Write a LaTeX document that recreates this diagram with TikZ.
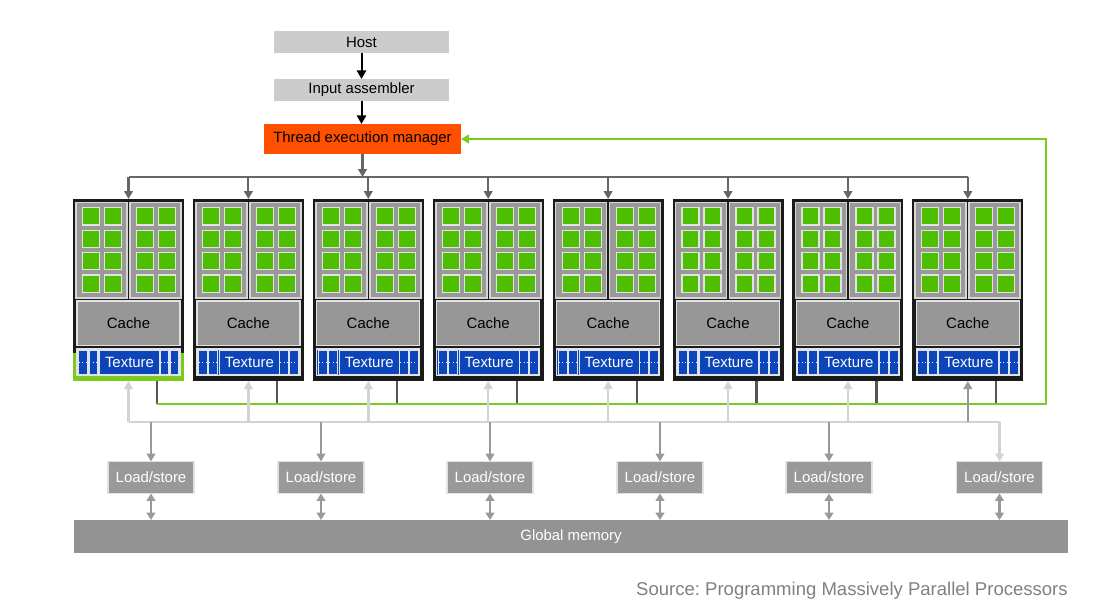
\documentclass[tikz,border=0pt]{standalone}
\usepackage{fontspec}
\setmainfont{Liberation Sans}
\usetikzlibrary{arrows.meta}
\frenchspacing
\definecolor{hostgray}{HTML}{CCCCCC}
\definecolor{temorange}{HTML}{FF5000}
\definecolor{smblack}{HTML}{1A1A1A}
\definecolor{panelrim}{HTML}{D6D6D6}
\definecolor{panelfill}{HTML}{999999}
\definecolor{coregreen}{HTML}{4DBE00}
\definecolor{linkgreen}{HTML}{7ACB1E}
\definecolor{cachegray}{HTML}{979797}
\definecolor{texblue}{HTML}{0C45B9}
\definecolor{busdark}{HTML}{666666}
\definecolor{stubgray}{HTML}{555555}
\definecolor{buslight}{HTML}{D3D3D3}
\definecolor{midgray}{HTML}{999999}
\definecolor{gmgray}{HTML}{939393}
\definecolor{srcgray}{HTML}{808080}
\definecolor{rimlight}{HTML}{E2E2E2}
\tikzset{
  flat/.style={inner sep=0pt, outer sep=0pt},
  lbl/.style={font=\fontsize{11.2}{13}\selectfont},
  tipbig/.style={-{Triangle[width=7pt,length=6.5pt]}},
  tipmid/.style={-{Triangle[width=6.5pt,length=6pt]}},
  tipboth/.style={{Triangle[width=6.5pt,length=5.5pt]}-{Triangle[width=6.5pt,length=5.5pt]}},
  darkbus/.style={draw=busdark, line width=1.6pt},
  lightbus/.style={draw=buslight, line width=1.8pt},
  memlink/.style={draw=midgray, line width=1.6pt},
}
\begin{document}
\begin{tikzpicture}[x=0.75pt,y=-0.75pt]
\useasboundingbox (0,0) rectangle (1110,611);

% top chain
\node[flat, minimum width=175*0.75pt, minimum height=22*0.75pt, fill=hostgray, lbl] (host) at (361.5,42) {Host};
\node[flat, minimum width=175*0.75pt, minimum height=22*0.75pt, fill=hostgray, lbl] (ia) at (361.5,90) {Input assembler};
\node[flat, minimum width=197*0.75pt, minimum height=30*0.75pt, fill=temorange, lbl] (tem) at (362.5,139) {Thread execution manager};
\draw[black, line width=1.5pt, tipbig] (host.south) -- (ia.north);
\draw[black, line width=1.5pt, tipbig] (ia.south) -- (ia.south |- tem.north);

% streaming multiprocessors
\foreach \i in {1,...,8} {
  \pgfmathsetmacro\L{73+119.9*(\i-1)}
  \node[flat, minimum width=111*0.75pt, minimum height=182*0.75pt, fill=smblack] (sm\i) at (\L+55.5,290) {};
  \ifnum\i=1
    \fill[linkgreen] (\L,353) rectangle (\L+111,381);
  \fi
  \foreach \p in {0,1} {
    \pgfmathsetmacro\P{\L+3+54*\p}
    \draw[panelrim, fill=panelfill, line width=1.3pt] (\P,202.5) rectangle (\P+51,298);
    \foreach \c in {0,1} {
      \foreach \r in {0,1,2,3} {
        \draw[rimlight, fill=coregreen, line width=0.9pt]
          (\P+6.5+22*\c,207.8+22.4*\r) rectangle (\P+23.5+22*\c,225+22.4*\r);
      }
    }
  }
  \node[flat, minimum width=103*0.75pt, minimum height=44.5*0.75pt, fill=cachegray, draw=rimlight, line width=1pt, lbl] (cache\i) at (\L+55.5,323.3) {Cache};
  \draw[rimlight, fill=texblue, line width=1pt] (\L+4,349) rectangle (\L+107,375.7);
  \draw[white!85!texblue, line width=0.8pt] (\L+5.5,350.5) rectangle (\L+15,374.2);
  \draw[white!85!texblue, line width=0.8pt] (\L+16,350.5) rectangle (\L+25,374.2);
  \draw[white!85!texblue, line width=0.8pt] (\L+87,350.5) rectangle (\L+96,374.2);
  \draw[white!85!texblue, line width=0.8pt] (\L+97,350.5) rectangle (\L+106,374.2);
  \draw[white, line width=0.6pt, dotted] (\L+6,362.3) -- (\L+24.5,362.3);
  \draw[white, line width=0.6pt, dotted] (\L+87.5,362.3) -- (\L+105.5,362.3);
  \node[flat, minimum width=60*0.75pt, minimum height=23.7*0.75pt, fill=texblue, draw=white!85!texblue, line width=0.8pt, text=white, lbl] (tex\i) at (\L+56.5,362.3) {Texture};
}

% distribution bus from thread execution manager
\coordinate (busT) at (0,177);
\draw[darkbus, tipmid] (tem.south) -- (tem.south |- busT);
\draw[darkbus] (sm1.north |- busT) -- (sm8.north |- busT);
\foreach \i in {1,...,8} {
  \draw[darkbus, tipmid] (sm\i.north |- busT) -- (sm\i.north);
}

% feedback (green) line
\coordinate (gline) at (0,404);
\foreach \i in {1,...,8} {
  \coordinate (st\i) at ([xshift=21.4pt]sm\i.south);
  \draw[stubgray, line width=1.6pt] (st\i) -- (st\i |- gline);
}
\coordinate (gcorner) at (1046,404);
\draw[linkgreen, line width=2pt, tipmid] (st1 |- gline) -- (gcorner) |- (tem.east);

% load/store units and global memory
\foreach \j/\x in {1/151,2/321,3/490,4/660,5/829,6/999.5} {
  \node[flat, minimum width=86*0.75pt, minimum height=32*0.75pt, fill=midgray, draw=rimlight, line width=0.8pt, text=white, lbl] (ls\j) at (\x,477.5) {Load/store};
}
\node[flat, minimum width=994*0.75pt, minimum height=33*0.75pt, fill=gmgray, text=white, lbl] (gm) at (571,536.5) {Global memory};

% light grey return bus
\coordinate (lbus) at (0,422);
\draw[lightbus] (sm1.south |- lbus) -- (ls6.north |- lbus);
\draw[lightbus, tipmid] (ls6.north |- lbus) -- (ls6.north);
\foreach \i in {1,...,7} {
  \draw[lightbus, tipmid] (sm\i.south |- lbus) -- (sm\i.south);
}
\draw[memlink, tipmid] (sm8.south |- lbus) -- (sm8.south);
\foreach \j in {1,...,5} {
  \draw[memlink, tipmid] (ls\j.north |- lbus) -- (ls\j.north);
}
\foreach \j in {1,...,6} {
  \draw[memlink, tipboth] (ls\j.south) -- (ls\j.south |- gm.north);
}

\node[anchor=base east, text=srcgray, inner sep=0pt, font=\fontsize{13.9}{16}\selectfont] (src) at (1068,595) {Source: Programming Massively Parallel Processors};
\end{tikzpicture}
\end{document}
